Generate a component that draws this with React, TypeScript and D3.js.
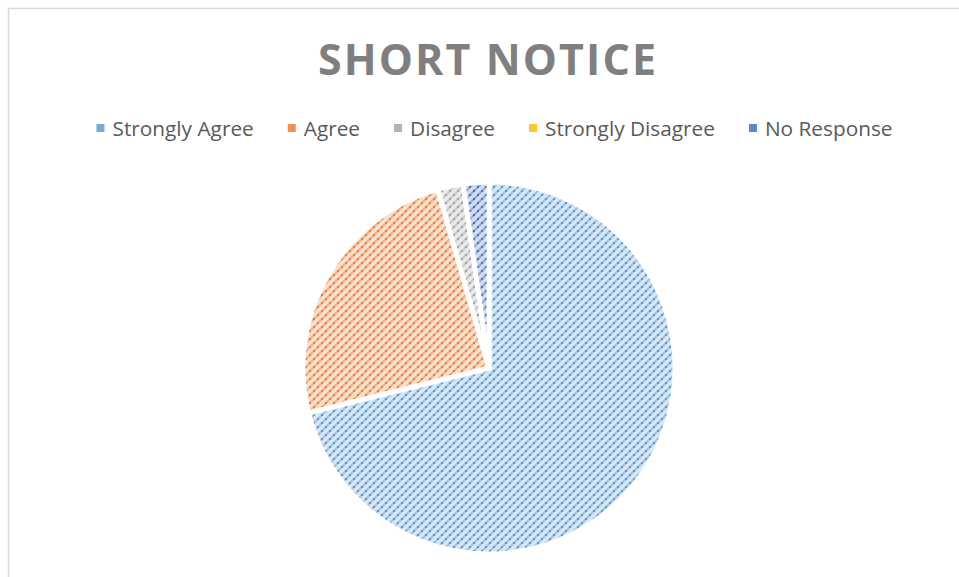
import React, { useEffect, useRef } from "react";
import * as d3 from "d3";

const categories = ["Strongly Agree", "Agree", "Disagree", "Strongly Disagree", "No Response"];
const values = [32, 11, 1, 0, 1];
const colors = ["#5B9BD5", "#ED7D31", "#A5A5A5", "#FFC000", "#4472C4"];
const title = "SHORT NOTICE";

const W = 959;
const H = 577;

export default function App() {
  const ref = useRef<SVGSVGElement | null>(null);

  useEffect(() => {
    const svg = d3.select(ref.current!);
    svg.selectAll("*").remove();

    const defs = svg.append("defs");
    categories.forEach((c, i) => {
      const col = d3.color(colors[i])!.formatHex();
      const light = d3.interpolateRgb("#ffffff", colors[i])(0.25);
      const mid = d3.interpolateRgb("#ffffff", colors[i])(0.6);
      const p = defs
        .append("pattern")
        .attr("id", `pat${i}`)
        .attr("patternUnits", "userSpaceOnUse")
        .attr("width", 8)
        .attr("height", 8);
      p.append("rect").attr("width", 8).attr("height", 8).attr("fill", light);
      p.append("path")
        .attr("d", "M-1,9L9,-1M-1,1L1,-1M7,9L9,7")
        .attr("stroke", mid)
        .attr("stroke-width", 2);
      [
        [0, 6],
        [4, 2],
      ].forEach(([x, y]) => {
        p.append("rect").attr("x", x).attr("y", y).attr("width", 2).attr("height", 2).attr("fill", col);
      });
    });

    // chart border
    svg
      .append("rect")
      .attr("x", 8.5)
      .attr("y", 8.5)
      .attr("width", W + 20)
      .attr("height", H + 20)
      .attr("fill", "white")
      .attr("stroke", "#d9d9d9")
      .attr("stroke-width", 1.5);

    // title
    svg
      .append("text")
      .attr("x", 487)
      .attr("y", 75)
      .attr("text-anchor", "middle")
      .attr("font-family", "'Open Sans', sans-serif")
      .attr("font-weight", 700)
      .attr("font-size", 43)
      .attr("fill", "#7f7f7f")
      .attr("textLength", 338)
      .attr("lengthAdjust", "spacing")
      .text(title);

    // pie
    const cx = 489;
    const cy = 368;
    const R = 186;
    const pie = d3
      .pie<number>()
      .sort(null)
      .value((d) => d)
      .startAngle(0)
      .endAngle(2 * Math.PI);
    const arc = d3.arc<d3.PieArcDatum<number>>().innerRadius(0).outerRadius(R);
    const g = svg.append("g").attr("transform", `translate(${cx},${cy})`);
    g.selectAll("path")
      .data(pie(values))
      .join("path")
      .attr("d", arc)
      .attr("fill", (_d, i) => `url(#pat${i})`)
      .attr("stroke", "white")
      .attr("stroke-width", (d) => (d.value > 0 ? 5 : 0))
      .attr("stroke-linejoin", "miter");

    // legend
    const lg = svg.append("g");
    const items = lg
      .selectAll("g.item")
      .data(categories)
      .join("g")
      .attr("class", "item");
    items
      .append("rect")
      .attr("width", 8)
      .attr("height", 8)
      .attr("y", 124)
      .attr("fill", (_d, i) => d3.interpolateRgb("#ffffff", colors[i])(0.85));
    const texts = items
      .append("text")
      .attr("x", 16)
      .attr("y", 136)
      .attr("font-family", "'Open Sans', sans-serif")
      .attr("font-size", 20.8)
      .attr("fill", "#595959")
      .text((d) => d);
    const widths: number[] = [];
    texts.each(function () {
      widths.push((this as SVGTextElement).getComputedTextLength());
    });
    const gap = 34;
    const total = widths.reduce((a, w) => a + 16 + w, 0) + gap * (widths.length - 1);
    let x = 494.5 - total / 2;
    items.each(function (_d, i) {
      d3.select(this).attr("transform", `translate(${x},0)`);
      x += 16 + widths[i] + gap;
    });
  }, []);

  return (
    <svg
      ref={ref}
      width={W}
      height={H}
      style={{ position: "absolute", left: 0, top: 0, display: "block" }}
    />
  );
}
